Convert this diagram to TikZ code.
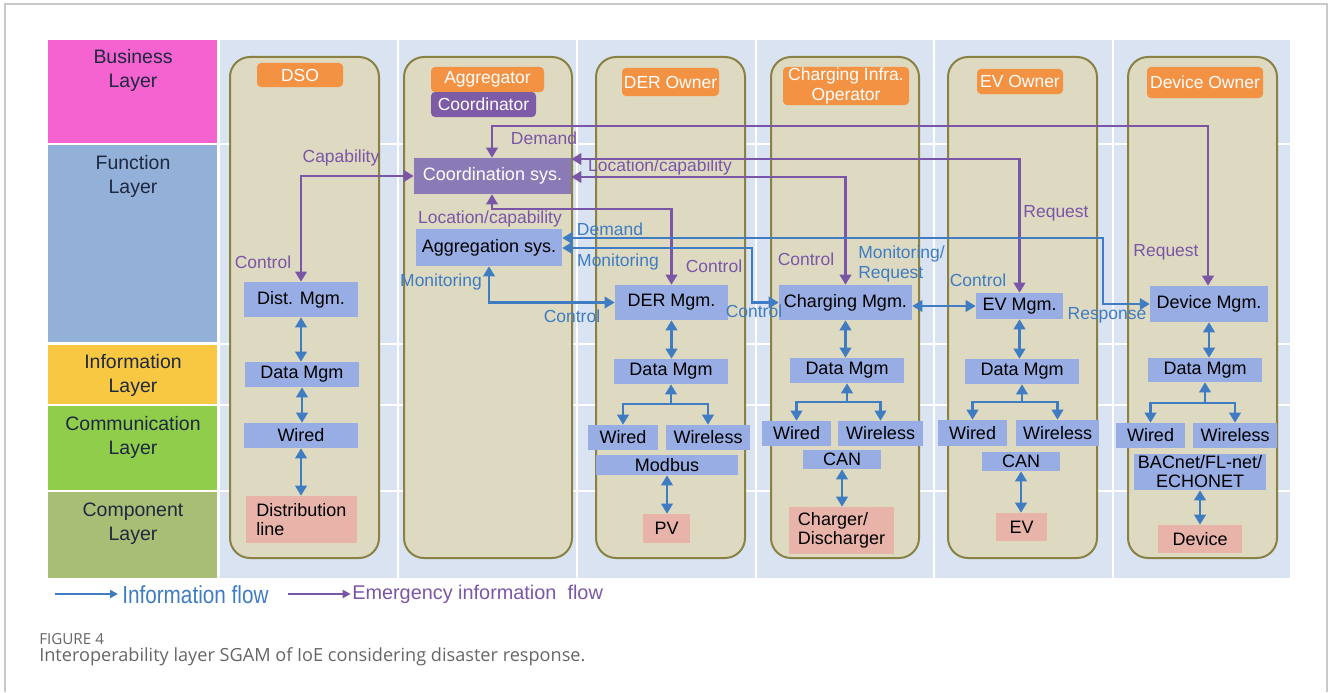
\documentclass[tikz,border=0pt]{standalone}
\usepackage{fontspec}
\setmainfont{Liberation Sans}
\newfontfamily\narrowsans[FakeStretch=0.84]{Liberation Sans}
\newfontfamily\captionsans{Open Sans}
\usetikzlibrary{arrows.meta,calc}

\definecolor{framegray}{HTML}{C9C9C9}
\definecolor{cellbg}{HTML}{DAE3F1}
\definecolor{busc}{HTML}{F463CF}
\definecolor{funcc}{HTML}{92B0D8}
\definecolor{infoc}{HTML}{F8C843}
\definecolor{commc}{HTML}{8FCD4B}
\definecolor{compc}{HTML}{A8BE74}
\definecolor{laytext}{HTML}{1E2840}
\definecolor{lanefill}{HTML}{DEDAC2}
\definecolor{laneedge}{HTML}{8A8244}
\definecolor{hdrorange}{HTML}{F49244}
\definecolor{coordpurple}{HTML}{7D5BA6}
\definecolor{syspurple}{HTML}{8A7BB6}
\definecolor{boxblue}{HTML}{97ADE3}
\definecolor{comppink}{HTML}{E8B4AA}
\definecolor{flowblue}{HTML}{3F7CC2}
\definecolor{flowpurple}{HTML}{7B56A6}
\definecolor{capgray}{HTML}{666666}

% \mkbox[style]{name}{x1}{y1}{x2}{y2}{text}: a node filling the given corners
\newcommand\mkbox[7][]{%
  \pgfmathsetmacro\mkboxw{(#5-#3)*0.75}%
  \pgfmathsetmacro\mkboxh{(#6-#4)*0.75}%
  \node[#1, minimum width=\mkboxw pt, minimum height=\mkboxh pt]
    (#2) at ({(#3+#5)/2},{(#4+#6)/2}) {#7};}

\begin{document}
\begin{tikzpicture}[x=0.75pt,y=-0.75pt,
  >={Triangle[length=7.5pt,width=8.5pt]},
  mgbox/.style={fill=boxblue, inner sep=0pt, align=center, font=\fontsize{13.5}{14.5}\selectfont},
  compbox/.style={fill=comppink, inner sep=0pt, align=left, font=\fontsize{13.5}{14.5}\selectfont},
  hdrbox/.style={fill=hdrorange, rounded corners=3pt, inner sep=0pt, text=white, align=center, font=\fontsize{13.1}{15}\selectfont},
  lanebox/.style={draw=laneedge, line width=1.5pt, fill=lanefill, rounded corners=15pt, inner sep=0pt},
  layertxt/.style={text=laytext, align=center, inner sep=0pt, font=\fontsize{14.6}{18}\selectfont},
  bflow/.style={draw=flowblue, line width=2.1pt},
  pflow/.style={draw=flowpurple, line width=2.1pt},
  plab/.style={text=flowpurple, inner sep=0pt, font=\fontsize{13.1}{15}\selectfont},
  blab/.style={text=flowblue, inner sep=0pt, font=\fontsize{13.1}{15}\selectfont},
]
\useasboundingbox (0,0) rectangle (1330,692);

% outer frame
\draw[framegray, line width=0.9pt] (5,692) -- (5,4) -- (1327,4) -- (1327,692);

% layer grid background
\fill[cellbg] (220,40) rectangle (1290,578);
\foreach \gx in {397.5,576.5,755.5,933.5,1112.5}
  \draw[white, line width=1.5pt] (\gx,40) -- (\gx,578);
\foreach \gy in {144,343.5,405,491}
  \draw[white, line width=1.5pt] (220,\gy) -- (1290,\gy);

% layer names
\fill[busc]  (48,40)  rectangle (217,143);
\fill[funcc] (48,145) rectangle (217,342);
\fill[infoc] (48,345) rectangle (217,404);
\fill[commc] (48,406) rectangle (217,490);
\fill[compc] (48,492) rectangle (217,578);
\node[layertxt] (tBus)  at (133,70)  {Business\\Layer};
\node[layertxt] (tFun)  at (133,176) {Function\\Layer};
\node[layertxt] (tInf)  at (133,375) {Information\\Layer};
\node[layertxt] (tCom)  at (133,437) {Communication\\Layer};
\node[layertxt] (tCmp)  at (133,524) {Component\\Layer};

% actor lanes
\mkbox[lanebox]{laneDSO}{230}{57}{379}{558}{}
\mkbox[lanebox]{laneAgg}{404}{57}{572}{558}{}
\mkbox[lanebox]{laneDER}{596}{57}{745}{558}{}
\mkbox[lanebox]{laneChg}{771}{57}{919}{558}{}
\mkbox[lanebox]{laneEV}{948}{57}{1097}{558}{}
\mkbox[lanebox]{laneDev}{1128}{57}{1277}{558}{}

% actor headers
\mkbox[hdrbox]{hDSO}{257}{63}{343}{87}{DSO}
\mkbox[hdrbox]{hAgg}{431}{67}{544}{92}{Aggregator}
\mkbox[hdrbox, fill=coordpurple]{hCoor}{431}{92}{536}{117}{Coordinator}
\mkbox[hdrbox]{hDER}{622}{68}{719}{96}{DER Owner}
\mkbox[hdrbox, font=\fontsize{13.1}{14.8}\selectfont]{hChg}{783}{67}{909}{105}{Charging Infra.\\Operator}
\mkbox[hdrbox]{hEV}{977}{69}{1063}{94}{EV Owner}
\mkbox[hdrbox]{hDev}{1147}{67}{1263}{98}{Device Owner}

% function layer
\mkbox[mgbox, fill=syspurple, text=white]{coord}{414}{158}{571}{194}{Coordination sys.}
\mkbox[mgbox]{aggr}{416}{229}{562}{266}{Aggregation sys.}
\mkbox[mgbox]{distm}{244}{282}{358}{317}{Dist. Mgm.}
\mkbox[mgbox]{derm}{615}{285}{728}{320}{DER Mgm.}
\mkbox[mgbox]{chgm}{779}{285}{912}{320}{Charging Mgm.}
\mkbox[mgbox]{evm}{976}{293}{1063}{319}{EV Mgm.}
\mkbox[mgbox]{devm}{1150}{286}{1268}{322}{Device Mgm.}

% information layer
\mkbox[mgbox]{dsoD}{245}{362}{359}{387}{Data Mgm}
\mkbox[mgbox]{derD}{614}{359}{728}{384}{Data Mgm}
\mkbox[mgbox]{chgD}{790}{358}{904}{383}{Data Mgm}
\mkbox[mgbox]{evD}{965}{359}{1079}{384}{Data Mgm}
\mkbox[mgbox]{devD}{1148}{358}{1262}{382}{Data Mgm}

% communication layer
\mkbox[mgbox]{dsoW}{244}{423}{358}{448}{Wired}
\mkbox[mgbox]{derW}{588}{425}{658}{450}{Wired}
\mkbox[mgbox]{derWl}{666}{425}{750}{450}{Wireless}
\mkbox[mgbox]{derMod}{596}{455}{738}{475}{Modbus}
\mkbox[mgbox]{chgW}{762}{421}{831}{446}{Wired}
\mkbox[mgbox]{chgWl}{838}{421}{923}{446}{Wireless}
\mkbox[mgbox]{chgCAN}{803}{450}{881}{469}{CAN}
\mkbox[mgbox]{evW}{938}{420}{1007}{446}{Wired}
\mkbox[mgbox]{evWl}{1016}{420}{1099}{446}{Wireless}
\mkbox[mgbox]{evCAN}{982}{452}{1060}{471}{CAN}
\mkbox[mgbox]{devW}{1116}{423}{1185}{448}{Wired}
\mkbox[mgbox]{devWl}{1193}{423}{1277}{448}{Wireless}
\mkbox[mgbox, font=\fontsize{13.5}{14.2}\selectfont]{devBAC}{1134}{454}{1266}{490}{BACnet/FL-net/\\ECHONET}

% component layer
\mkbox[compbox]{dsoC}{246}{496}{357}{543}{Distribution\\line}
\mkbox[compbox]{derC}{643}{514}{690}{543}{PV}
\mkbox[compbox]{chgC}{789}{507}{894}{554}{Charger/\\Discharger}
\mkbox[compbox]{evC}{996}{513}{1047}{541}{EV}
\mkbox[compbox]{devC}{1158}{525}{1242}{553}{Device}

% emergency information flows
\coordinate (pdA) at (492,126);
\coordinate (pdB) at (1208,126);
\coordinate (plB) at (492,209);
\draw[pflow,<->] (distm.north) |- (coord.west);
\draw[pflow,<->] (pdA |- coord.north) -- (pdA) -- (pdB) -- (pdB |- devm.north);
\draw[pflow,<->] (coord.east |- 0,159) -| (evm.north);
\draw[pflow,<->] (coord.east |- 0,177) -| (chgm.north);
\draw[pflow,<->] (plB |- coord.south) -- (plB) -| (derm.north);

% information flows between actors
\coordinate (bdA) at (1103,238);
\coordinate (bmA) at (752,248);
\draw[bflow,<->] (aggr.east |- bdA) -- (bdA) |- (devm.west);
\draw[bflow,<->] (aggr.east |- bmA) -- (bmA) |- (chgm.west);
\draw[bflow,<->] (aggr.south) |- (derm.west);
\draw[bflow,<->] (chgm.east |- evm.west) -- (evm.west);

% DSO stack
\draw[bflow,<->] (distm.south) -- (distm.south |- dsoD.north);
\draw[bflow,<->] (dsoD.south) -- (dsoD.south |- dsoW.north);
\draw[bflow,<->] (dsoW.south) -- (dsoW.south |- dsoC.north);

% DER stack
\draw[bflow,<->] (derm.south) -- (derm.south |- derD.north);
\coordinate (derJ) at (derD.south |- 0,404);
\draw[bflow,->] (derJ) -- (derD.south);
\draw[bflow,->] (derJ) -| (derW.north);
\draw[bflow,->] (derJ) -| (derWl.north);
\draw[bflow,<->] (derMod.south) -- (derMod.south |- derC.north);

% charging stack
\draw[bflow,<->] (chgm.south) -- (chgm.south |- chgD.north);
\coordinate (chgJ) at (chgD.south |- 0,402);
\draw[bflow,->] (chgJ) -- (chgD.south);
\draw[bflow,->] (chgJ) -| (chgW.north);
\draw[bflow,->] (chgJ) -| (chgWl.north);
\draw[bflow,<->] (chgCAN.south) -- (chgCAN.south |- chgC.north);

% EV stack
\draw[bflow,<->] (evm.south) -- (evm.south |- evD.north);
\coordinate (evJ) at (evD.south |- 0,402);
\draw[bflow,->] (evJ) -- (evD.south);
\draw[bflow,->] (evJ) -| (evW.north);
\draw[bflow,->] (evJ) -| (evWl.north);
\draw[bflow,<->] (evCAN.south) -- (evCAN.south |- evC.north);

% device stack
\draw[bflow,<->] (devm.south) -- (devm.south |- devD.north);
\coordinate (devJ) at (devD.south |- 0,403);
\draw[bflow,->] (devJ) -- (devD.south);
\draw[bflow,->] (devJ) -| (devW.north);
\draw[bflow,->] (devJ) -| (devWl.north);
\draw[bflow,<->] (devBAC.south) -- (devBAC.south |- devC.north);

% flow labels
\node[plab] (lCap)  at (341,158)  {Capability};
\node[plab] (lCtl1) at (263,262)  {Control};
\node[plab] (lDem1) at (544,138)  {Demand};
\node[plab] (lLoc1) at (660,167)  {Location/capability};
\node[plab] (lLoc2) at (490,219)  {Location/capability};
\node[plab] (lCtl2) at (714,266)  {Control};
\node[plab] (lCtl3) at (806,259)  {Control};
\node[plab] (lReq1) at (1056,213) {Request};
\node[plab] (lReq2) at (1166,252) {Request};
\node[blab] (lDem2) at (610,229)  {Demand};
\node[blab] (lMon1) at (618,262)  {Monitoring};
\node[blab] (lMon2) at (441,282)  {Monitoring};
\node[blab] (lCtl4) at (572,316)  {Control};
\node[blab] (lCtl5) at (754,311)  {Control};
\node[blab, anchor=west, align=left, font=\fontsize{13.1}{15}\selectfont] (lMonReq) at (858,264) {Monitoring/\\Request};
\node[blab] (lCtl6) at (978,280)  {Control};
\node[blab] (lResp) at (1107,315) {Response};

% legend
\coordinate (lgA) at (55,594);
\coordinate (lgB) at (288,594);
\node[anchor=west, inner sep=0pt, text=flowblue, font=\narrowsans\fontsize{18.5}{20}\selectfont] (lgInfo) at (122,595) {Information flow};
\node[anchor=west, inner sep=0pt, text=flowpurple, font=\fontsize{14.9}{17}\selectfont] (lgEmg) at (352,594) {Emergency information\ \ flow};
\draw[flowblue, line width=1.6pt, -{Triangle[length=6pt,width=6pt]}] (lgA) -- ([xshift=-3pt]lgA -| lgInfo.west);
\draw[flowpurple, line width=1.6pt, -{Triangle[length=6pt,width=6pt]}] (lgB) -- ([xshift=-1pt]lgB -| lgEmg.west);

% caption
\node[anchor=west, inner sep=0pt, text=capgray, font=\captionsans\fontsize{11.4}{13}\selectfont] (figno) at (39,639) {FIGURE 4};
\node[anchor=west, inner sep=0pt, text=capgray, font=\captionsans\fontsize{13.6}{15}\selectfont] (figcap) at (39,657) {Interoperability layer SGAM of IoE considering disaster response.};
\end{tikzpicture}
\end{document}
